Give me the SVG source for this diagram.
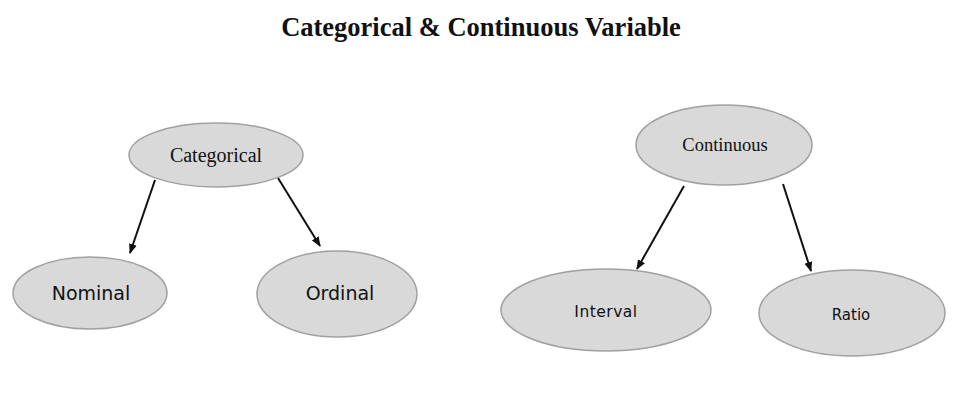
<svg xmlns="http://www.w3.org/2000/svg" width="974" height="410" viewBox="0 0 974 410">
<defs>
<style>
.node ellipse{fill:#d9d9d9;stroke:#a0a0a0;stroke-width:1.5}
.serif{font-family:"Liberation Serif","Times New Roman",serif;fill:#111;text-anchor:middle}
.sans{font-family:"DejaVu Sans",Verdana,sans-serif;fill:#111;text-anchor:middle}
.conn line{stroke:#111;stroke-width:2}
</style>
<marker id="ah" viewBox="0 0 10 10" refX="9" refY="5" markerWidth="5" markerHeight="5" orient="auto" markerUnits="strokeWidth">
<path d="M0,1 L10,5 L0,9 z" fill="#111"/>
</marker>
</defs>
<rect width="974" height="410" fill="#fff"/>
<text x="481" y="36" class="serif" font-size="26.5" font-weight="bold">Categorical &amp; Continuous Variable</text>
<g class="conn">
<line x1="155" y1="180" x2="130" y2="253" marker-end="url(#ah)"/>
<line x1="278" y1="178" x2="320" y2="246" marker-end="url(#ah)"/>
<line x1="684" y1="186" x2="637" y2="269" marker-end="url(#ah)"/>
<line x1="783" y1="184" x2="811" y2="271" marker-end="url(#ah)"/>
</g>
<g id="categorical" class="node">
<ellipse cx="216" cy="155" rx="87" ry="32"/>
<text x="216" y="162" class="serif" font-size="20">Categorical</text>
</g>
<g id="nominal" class="node">
<ellipse cx="90" cy="293" rx="77" ry="36"/>
<text x="91" y="300" class="sans" font-size="19">Nominal</text>
</g>
<g id="ordinal" class="node">
<ellipse cx="337" cy="294" rx="80" ry="43"/>
<text x="340" y="300" class="sans" font-size="19">Ordinal</text>
</g>
<g id="continuous" class="node">
<ellipse cx="724" cy="145" rx="88" ry="40"/>
<text x="725" y="151" class="serif" font-size="18.5">Continuous</text>
</g>
<g id="interval" class="node">
<ellipse cx="606" cy="310" rx="105" ry="41"/>
<text x="606" y="317" class="sans" font-size="15.5" letter-spacing="0.5">Interval</text>
</g>
<g id="ratio" class="node">
<ellipse cx="852" cy="313" rx="93" ry="43"/>
<text x="851" y="320" class="sans" font-size="15">Ratio</text>
</g>
</svg>
